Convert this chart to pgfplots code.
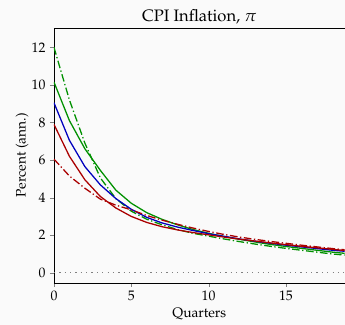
\documentclass[border=0pt]{standalone}
\usepackage[T1]{fontenc}
\usepackage{mathpazo}
\usepackage{pgfplots}
\pgfplotsset{compat=1.18}
\usetikzlibrary{backgrounds}
\definecolor{bg}{RGB}{250,250,250}
\definecolor{cgreen}{RGB}{0,145,0}
\definecolor{cred}{RGB}{170,0,0}
\definecolor{cblue}{RGB}{0,0,190}
\begin{document}
\begin{tikzpicture}[show background rectangle, inner frame sep=0pt, background rectangle/.style={fill=bg, draw=none}]
\begin{axis}[
  width=228pt, height=199.8pt, scale only axis,
  xmin=0, xmax=18.8, ymin=-0.53, ymax=13.03,
  axis x line*=box, axis y line*=left,
  xtick={0,5,10,15}, ytick={0,2,4,6,8,10,12},
  xtick pos=bottom, tick align=outside,
  major tick length=3.1pt,
  tick label style={font=\fontsize{10.8}{13}\selectfont},
  title={CPI Inflation, $\pi$},
  every axis title/.style={at={(axis description cs:0.5,1)}, anchor=base, yshift=5pt, font=\fontsize{13}{15}\selectfont},
  xlabel={Quarters}, ylabel={Percent (ann.)},
  every axis x label/.style={at={(axis description cs:0.5,0)}, anchor=base, yshift=-27.4pt, font=\fontsize{10.8}{13}\selectfont},
  every axis y label/.style={at={(axis description cs:-0.1096,0.5)}, rotate=90, anchor=center, font=\fontsize{10.8}{13}\selectfont},
  every axis plot/.append style={line width=1pt},
  clip=true,
]
\addplot[gray, line width=1pt, dash pattern=on 1pt off 3.2pt] coordinates {(0,0) (20,0)};
% green dash-dot
\addplot[cgreen, dash pattern=on 6pt off 2pt on 1pt off 2pt] coordinates {(0,12.0) (1,9.2) (2,6.9) (3,5.05) (4,3.95) (5,3.28) (6,2.85) (7,2.55) (8,2.3) (9,2.1) (10,1.95) (11,1.8) (12,1.66) (13,1.53) (14,1.41) (15,1.3) (16,1.2) (17,1.1) (18,1.0) (19,0.93) (20,0.86)};
% green solid
\addplot[cgreen] coordinates {(0,10.15) (1,8.1) (2,6.6) (3,5.45) (4,4.4) (5,3.7) (6,3.2) (7,2.84) (8,2.55) (9,2.3) (10,2.1) (11,1.93) (12,1.78) (13,1.64) (14,1.51) (15,1.4) (16,1.3) (17,1.2) (18,1.1) (19,1.02) (20,0.95)};
% blue
\addplot[cblue] coordinates {(0,9.05) (1,7.05) (2,5.65) (3,4.68) (4,3.95) (5,3.38) (6,2.95) (7,2.65) (8,2.43) (9,2.25) (10,2.08) (11,1.94) (12,1.8) (13,1.68) (14,1.57) (15,1.47) (16,1.38) (17,1.29) (18,1.2) (19,1.13) (20,1.06)};
% red solid
\addplot[cred] coordinates {(0,7.9) (1,6.2) (2,4.95) (3,4.06) (4,3.45) (5,3.0) (6,2.68) (7,2.45) (8,2.28) (9,2.14) (10,2.02) (11,1.9) (12,1.79) (13,1.69) (14,1.59) (15,1.5) (16,1.41) (17,1.33) (18,1.25) (19,1.17) (20,1.1)};
% red dash-dot
\addplot[cred, dash pattern=on 6pt off 2pt on 1pt off 2pt] coordinates {(0,6.05) (1,5.15) (2,4.5) (3,3.92) (4,3.6) (5,3.35) (6,3.05) (7,2.8) (8,2.58) (9,2.38) (10,2.2) (11,2.04) (12,1.9) (13,1.78) (14,1.67) (15,1.57) (16,1.47) (17,1.38) (18,1.29) (19,1.21) (20,1.14)};
\end{axis}
\path ([xshift=-42.3pt,yshift=-32.1pt]current axis.south west) rectangle ([yshift=21.9pt]current axis.north east);
\end{tikzpicture}
\end{document}
